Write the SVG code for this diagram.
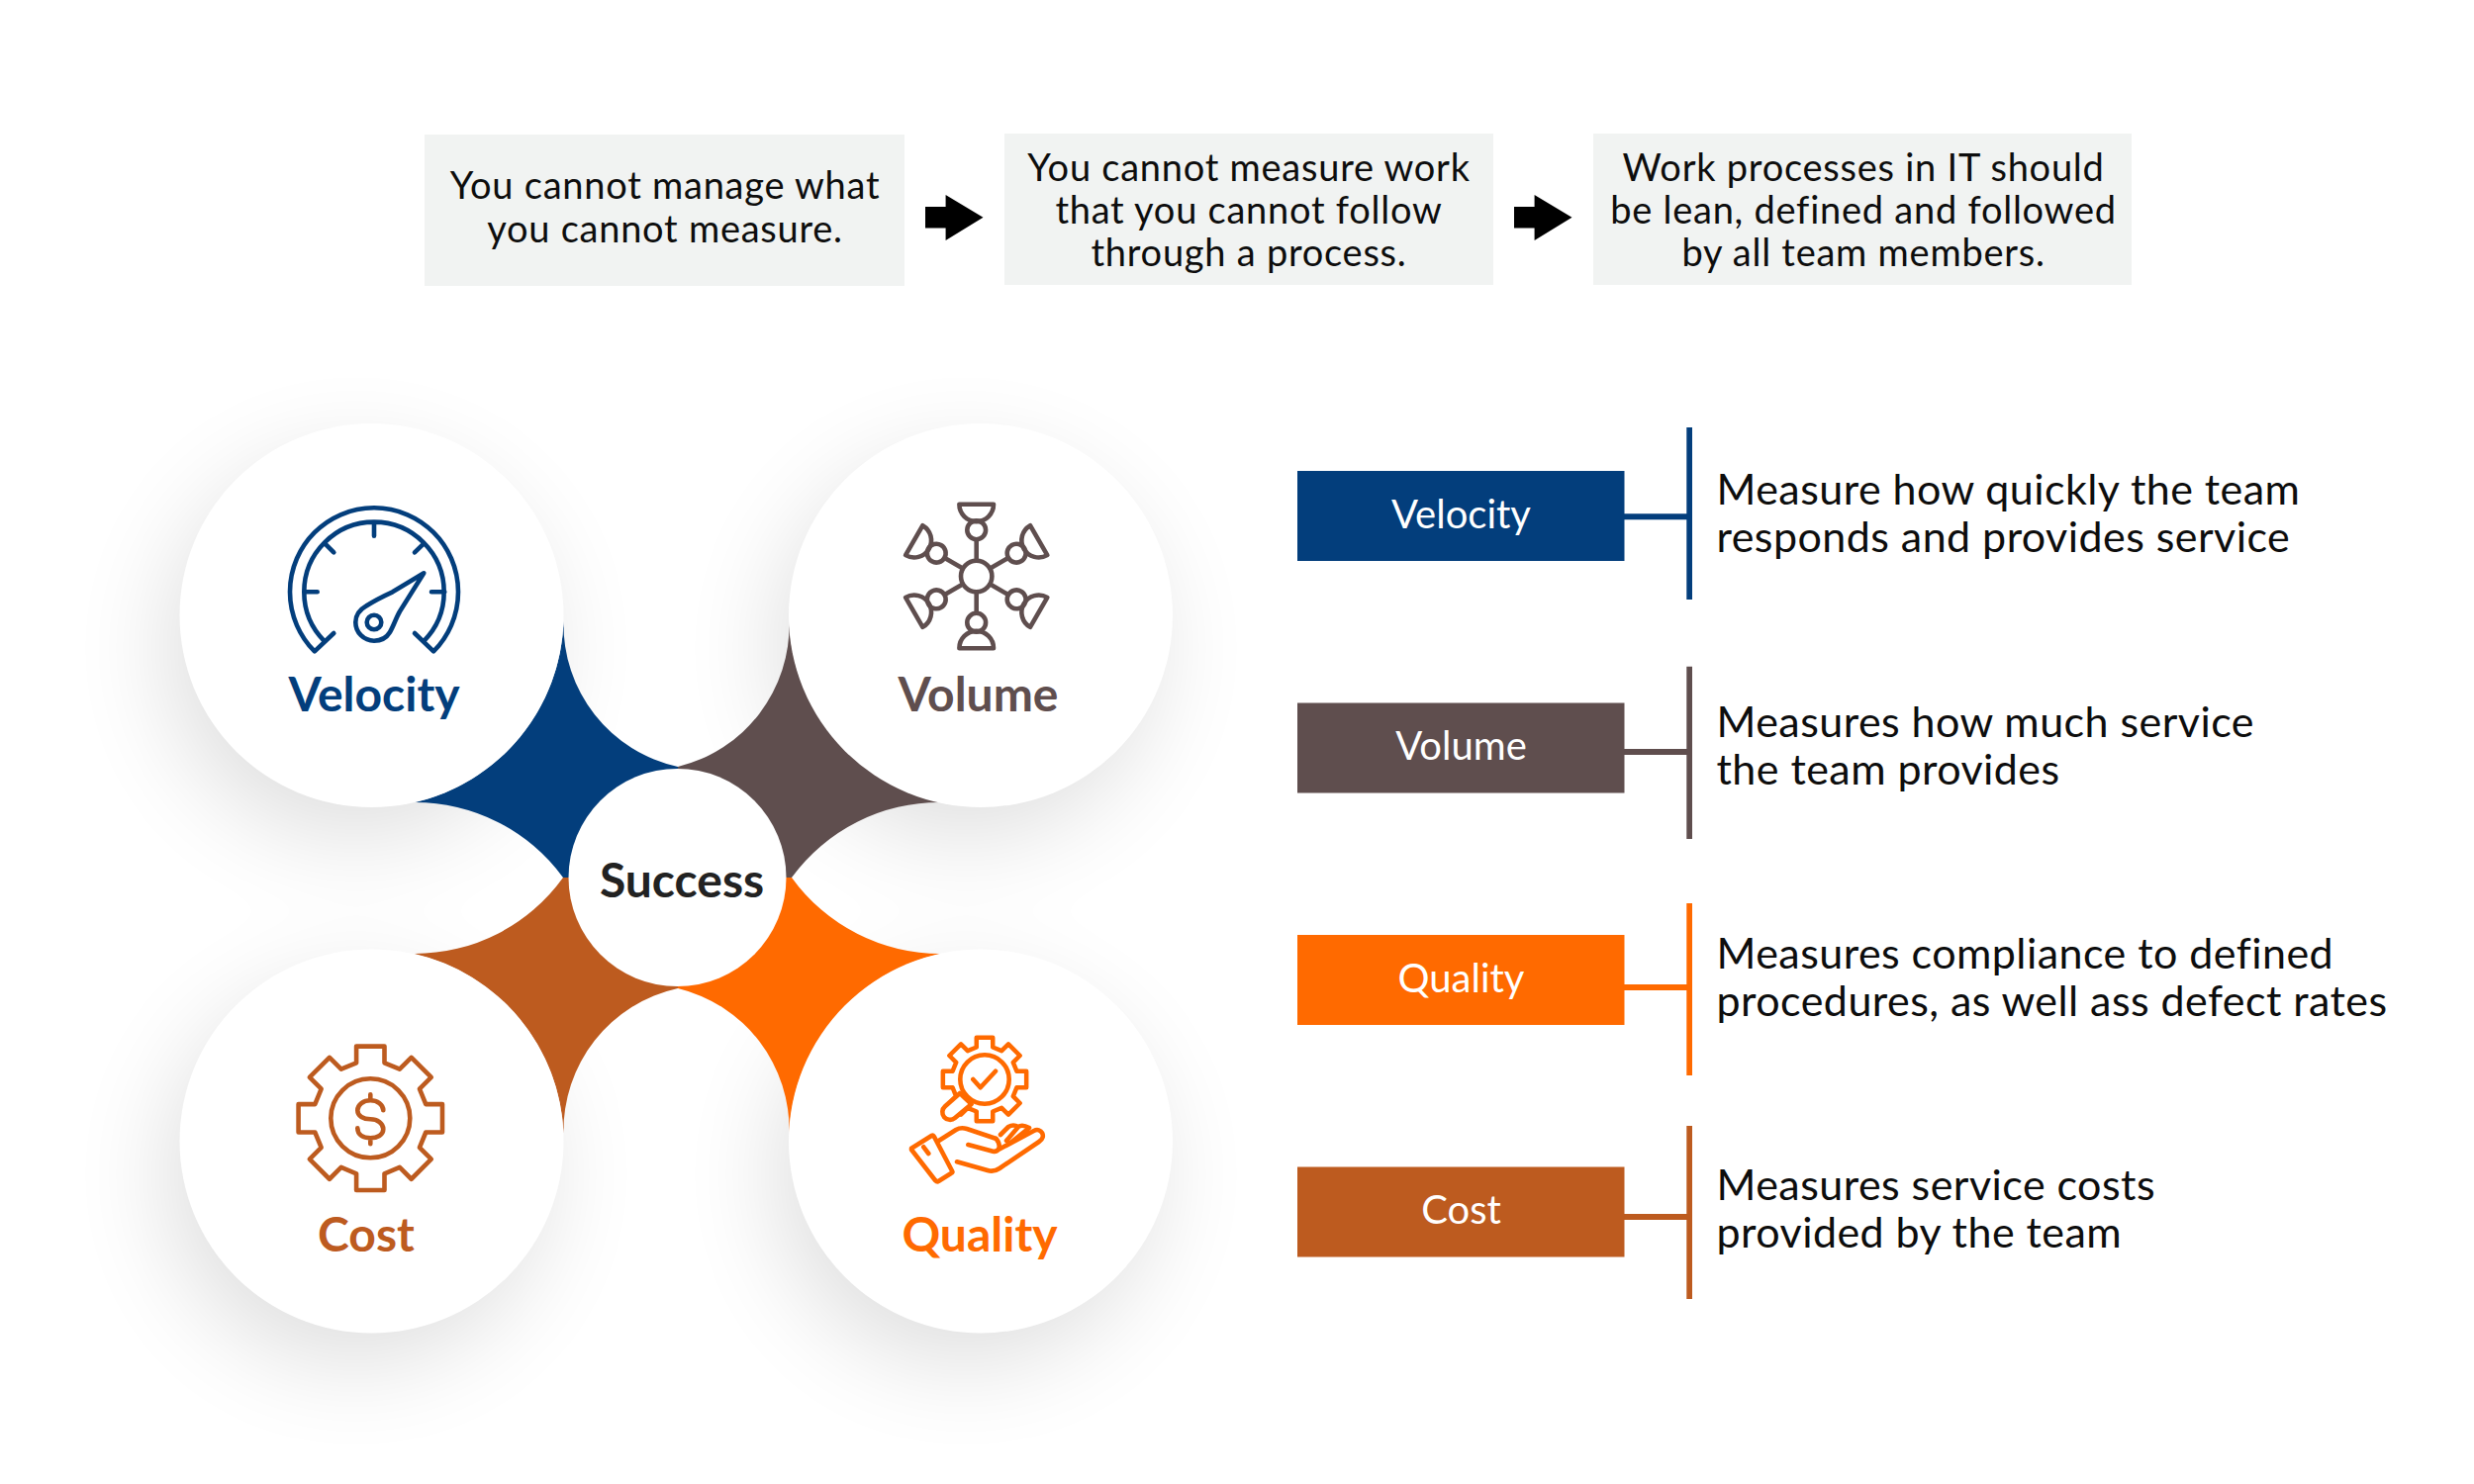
<svg xmlns="http://www.w3.org/2000/svg" xmlns:xlink="http://www.w3.org/1999/xlink" width="2500" height="1500" viewBox="0 0 2500 1500">
<style>
text{font-family:Lato,"Liberation Sans",sans-serif}
.top{font-size:38px;fill:#0d0d0d;text-anchor:middle;letter-spacing:.75px}
.desc{font-size:43px;fill:#0d0d0d;letter-spacing:.45px}
.lab{font-size:40px;fill:#fff;text-anchor:middle}
.big{font-size:48px;font-weight:700;text-anchor:middle}
.box{fill:#f1f3f2}
.ic{fill:none;stroke-width:4.6;stroke-linecap:round;stroke-linejoin:round}
.disc{fill:#fff}
</style>
<defs>
<filter id="sh" x="-50%" y="-50%" width="200%" height="200%"><feGaussianBlur stdDeviation="50"/></filter>
<g id="arm"><line x1="0" y1="-16" x2="0" y2="-37"/><circle cx="0" cy="-46.7" r="9.4"/><path d="M-17.3-72.7H17.3A17.3 17.3 0 0 1-17.3-72.7Z"/></g>
<path id="gear" d="M-14.2-56V-72.7H14.2V-56L29.56-49.64 41.37-61.45 61.45-41.37 49.64-29.56 56-14.2H72.7V14.2H56L49.64 29.56 61.45 41.37 41.37 61.45 29.56 49.64 14.2 56V72.7H-14.2V56L-29.56 49.64-41.37 61.45-61.45 41.37-49.64 29.56-56 14.2H-72.7V-14.2H-56L-49.64-29.56-61.45-41.37-41.37-61.45-29.56-49.64Z"/>
</defs>
<rect width="2500" height="1500" fill="#fff"/>
<g id="shadows" fill="#000" opacity=".13" filter="url(#sh)">
<circle cx="360" cy="655" r="190"/><circle cx="976" cy="655" r="190"/><circle cx="360" cy="1187" r="190"/><circle cx="976" cy="1187" r="190"/>
</g>
<g id="stars">
<path fill="#033e7c" d="M569.5 628A147 147 0 0 0 685 775L685 887H569A185 185 0 0 0 418.7 811A194 194 0 0 0 569.5 628Z"/>
<path fill="#5f4e4e" d="M797.500 628A147 147 0 0 1 685 775L685 887H800A185 185 0 0 1 951 811A194 194 0 0 1 797.500 628Z"/>
<path fill="#bd5b1f" d="M569.5 1146A147 147 0 0 1 685 999L685 887H569A185 185 0 0 1 418.7 964A194 194 0 0 1 569.5 1146Z"/>
<path fill="#ff6a00" d="M797.500 1146A147 147 0 0 0 685 999L685 887H800A185 185 0 0 0 951 964A194 194 0 0 0 797.500 1146Z"/>
</g>
<g id="node-box1"><rect class="box" x="429" y="136" width="485" height="153"/><text class="top" x="672" y="201">You cannot manage what</text><text class="top" x="672" y="244.500">you cannot measure.</text></g>
<g id="node-box2"><rect class="box" x="1015" y="135" width="494" height="153"/><text class="top" x="1262" y="183">You cannot measure work</text><text class="top" x="1262" y="226">that you cannot follow</text><text class="top" x="1262" y="269">through a process.</text></g>
<g id="node-box3"><rect class="box" x="1610" y="135" width="544" height="153"/><text class="top" x="1883" y="183">Work processes in IT should</text><text class="top" x="1883" y="226">be lean, defined and followed</text><text class="top" x="1883" y="269">by all team members.</text></g>
<g id="node-velocity"><circle class="disc" cx="375.5" cy="622" r="194"/>
<g class="ic" stroke="#033e7c"><path d="M337.3 640 317.9 658.4A85 85 0 1 1 438.1 658.4L419 640M328 648.3A70.7 70.7 0 1 1 428 648.3M378 530V541.7M307.3 598.3H320.7M436 598.3H449.3M328.3 549.3 337.3 558.3M428.3 549.3 419 558.3"/>
<path d="M428.3 579.3 396.7 598.3Q380 606 370 612.5C362 617 359.3 622 359.3 629A18.7 18.7 0 0 0 378 647.7C386 647.7 391 644 394 639C398 632 400 625 404 618Z"/><circle cx="378" cy="629" r="7.3"/></g>
<text class="big" x="378" y="719" fill="#033e7c">Velocity</text></g>
<g id="node-volume"><circle class="disc" cx="991" cy="622" r="194"/>
<g class="ic" stroke="#5f4e4e" transform="translate(986.7 582.5)"><circle r="15.7"/><use xlink:href="#arm"/><use xlink:href="#arm" transform="rotate(60)"/><use xlink:href="#arm" transform="rotate(120)"/><use xlink:href="#arm" transform="rotate(180)"/><use xlink:href="#arm" transform="rotate(240)"/><use xlink:href="#arm" transform="rotate(300)"/></g>
<text class="big" x="988.500" y="719" fill="#5f4e4e">Volume</text></g>
<g id="node-cost"><circle class="disc" cx="375.5" cy="1153.5" r="194"/>
<g class="ic" stroke="#bd5b1f" transform="translate(374.3 1130.3)"><use xlink:href="#gear"/><circle r="40"/><path d="M13-8C13-14 7-18 0-18C-7-18-13-14-13-8C-13-2-7 1 0 1C7 1 13 5 13 11C13 17 7 20 0 20C-7 20-13 17-13 10M0-18V-24M0 20V26"/></g>
<text class="big" x="370" y="1265" fill="#bd5b1f">Cost</text></g>
<g id="node-quality"><circle class="disc" cx="991" cy="1153.5" r="194"/>
<g class="ic" stroke="#ff6a00"><g transform="translate(995 1091) scale(.58)" style="stroke-width:7.8"><use xlink:href="#gear"/></g>
<path fill="#fff" d="M970 1105 955 1118.3A7.5 7.5 0 0 0 965 1130L981.7 1116Z"/><circle cx="995" cy="1091" r="24.7" fill="#fff"/>
<path d="M983.3 1091 990.7 1099.3 1006 1082.7M921 1160.7 941.7 1147.7Q943 1147 944 1149L962.3 1184Q963 1185 961 1186L948.3 1194Q947 1195 945 1193L921 1162ZM933.3 1159.3 938.3 1166M948.3 1153.3 966 1142Q971 1139 977 1141L1006.7 1151M978.3 1157 1003.3 1163.7C1010 1165 1012 1158 1006.7 1151M1009 1162 1044.7 1143C1052 1139 1058 1149 1050 1154L1010 1181Q1004 1185 998 1183L967 1174.3M1011 1147 1019 1139Q1024 1136 1029 1139L1017 1153M1029 1139Q1033 1136 1040 1140L1020 1156"/></g>
<text class="big" x="990" y="1265" fill="#ff6a00">Quality</text></g>
<g id="node-success"><circle class="disc" cx="684.5" cy="887" r="110"/><text class="big" x="689" y="906.500" fill="#222">Success</text></g>
<g id="connectors">
<path d="M935 209H955.6V197L993.5 219.7 955.6 243V230.5H935Z"/><path d="M1530 209H1550.6V197L1588.5 219.7 1550.6 243V230.5H1530Z"/>
<path fill="#033e7c" d="M1641 519.3H1704.3V432H1710V606H1704.3V525.3H1641Z"/>
<path fill="#5f4e4e" d="M1641 757H1704.3V673.7H1710V848H1704.3V763H1641Z"/>
<path fill="#ff6a00" d="M1641 995H1704.3V913H1710V1087H1704.3V1001H1641Z"/>
<path fill="#bd5b1f" d="M1641 1227H1704.3V1138H1710V1313H1704.3V1233H1641Z"/>
</g>
<g id="node-r-velocity"><rect x="1311" y="476" width="330.500" height="91" fill="#033e7c"/><text class="lab" x="1476.500" y="534">Velocity</text><text class="desc" x="1734.500" y="510">Measure how quickly the team</text><text class="desc" x="1734.500" y="558">responds and provides service</text></g>
<g id="node-r-volume"><rect x="1311" y="710.500" width="330.500" height="91" fill="#5f4e4e"/><text class="lab" x="1476.500" y="768">Volume</text><text class="desc" x="1734.500" y="745">Measures how much service</text><text class="desc" x="1734.500" y="793">the team provides</text></g>
<g id="node-r-quality"><rect x="1311" y="945" width="330.500" height="91" fill="#ff6a00"/><text class="lab" x="1476.500" y="1003">Quality</text><text class="desc" x="1734.500" y="979">Measures compliance to defined</text><text class="desc" x="1734.500" y="1027">procedures, as well ass defect rates</text></g>
<g id="node-r-cost"><rect x="1311" y="1179.500" width="330.500" height="91" fill="#bd5b1f"/><text class="lab" x="1476.500" y="1237">Cost</text><text class="desc" x="1734.500" y="1213">Measures service costs</text><text class="desc" x="1734.500" y="1261">provided by the team</text></g>
</svg>
